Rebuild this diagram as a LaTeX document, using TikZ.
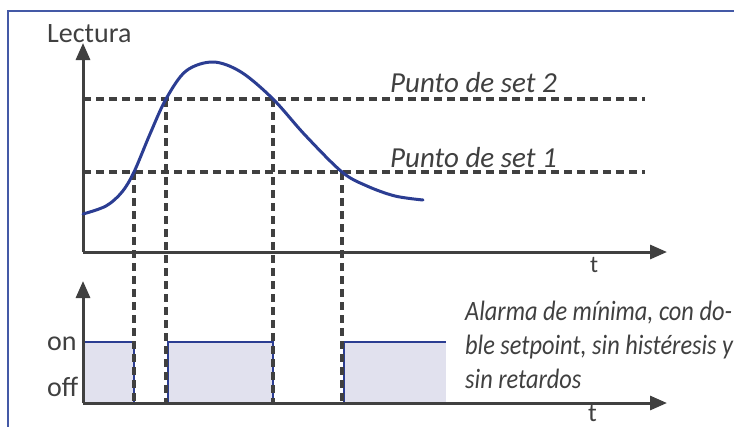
\documentclass[tikz,border=0pt]{standalone}
\usepackage{fontspec}
\setmainfont{Carlito}
\newfontfamily\condfont{Carlito}[FakeStretch=0.87]
\usetikzlibrary{arrows.meta}
\definecolor{txt}{HTML}{404040}
\definecolor{axc}{HTML}{404040}
\definecolor{crv}{HTML}{2B3D92}
\definecolor{frm}{HTML}{4459A6}
\definecolor{pfill}{HTML}{E1E1EE}
\begin{document}
\begin{tikzpicture}[x=1pt,y=-1pt,
  axisline/.style={draw=axc,line width=3pt,-{Triangle[length=17pt,width=14pt]}},
  guide/.style={draw=axc,line width=3.1pt,dash pattern=on 8pt off 5pt},
  pulsefill/.style={fill=pfill},
  pulseedge/.style={draw=crv,line width=2.4pt},
  lbl/.style={text=txt,inner sep=0pt,anchor=base west,font=\fontsize{28}{34}\selectfont},
  ilbl/.style={lbl,font=\fontsize{29}{34}\selectfont\itshape},
  clbl/.style={lbl,font=\condfont\fontsize{28}{34}\selectfont\itshape}]
\useasboundingbox (0,0) rectangle (734,426);
\clip (0,0) rectangle (734,426);
\fill[white] (0,0) rectangle (734,426);
\draw[frm,line width=2.5pt] (8,430) -- (8,11) -- (740,11);
% axes coordinates
\coordinate (O1) at (83,252);
\coordinate (Y1) at (83,43);
\coordinate (X1) at (667,252);
\coordinate (O2) at (83,403);
\coordinate (Y2) at (83,281);
\coordinate (X2) at (667,403);
% set lines
\coordinate (S2a) at (83,99);
\coordinate (S2b) at (645,99);
\coordinate (S1a) at (83,172);
\coordinate (S1b) at (645,172);
% crossings
\coordinate (c1) at (134,172);
\coordinate (c2) at (166,99);
\coordinate (c3) at (273,99);
\coordinate (c4) at (342,172);
\coordinate (d1) at (134,403);
\coordinate (d2) at (166,403);
\coordinate (d3) at (273,403);
\coordinate (d4) at (342,403);
% pulses
\fill[pulsefill] (83,342) rectangle (134,403);
\fill[pulsefill] (168,342) rectangle (273,403);
\fill[pulsefill] (344,342) rectangle (446,403);
\draw[pulseedge] (83,403) -- (83,342) -- (134,342) -- (134,403);
\draw[pulseedge] (168,403) -- (168,342) -- (273,342) -- (273,403);
\draw[pulseedge] (344,403) -- (344,342) -- (446,342);
% guides
\draw[guide] (S2a) -- (S2b);
\draw[guide] (S1a) -- (S1b);
\draw[guide] (c1) -- (d1);
\draw[guide] (c2) -- (d2);
\draw[guide] (c3) -- (d3);
\draw[guide] (c4) -- (d4);
% axes
\draw[axisline] (O1) -- (Y1);
\draw[axisline] (O1) -- (X1);
\draw[axisline] (O2) -- (Y2);
\draw[axisline] (O2) -- (X2);
% curve
\draw[crv,line width=3pt,line cap=round] plot[smooth,tension=0.55] coordinates
  {(83,214) (106,206) (122,192) (c1) (150,134) (c2) (186,71) (213,62) (241,72) (c3) (305,135) (c4) (367,186) (395,196) (423,200)};
% labels
\node[lbl] (lect) at (47,42) {Lectura};
\node[ilbl] (ps2) at (390,92) {Punto de set 2};
\node[ilbl] (ps1) at (390,167) {Punto de set 1};
\node[lbl,font=\fontsize{24}{28}\selectfont] (t1) at (590,272) {t};
\node[lbl,font=\fontsize{26}{30}\selectfont] (t2) at (588,421) {t};
\node[lbl] (on) at (47,350) {on};
\node[lbl] (off) at (47,396) {off};
\node[clbl] (al1) at (465,320) {Alarma de mínima, con do-};
\node[clbl] (al2) at (465,354) {ble setpoint, sin histéresis y};
\node[clbl] (al3) at (465,388) {sin retardos};
\end{tikzpicture}
\end{document}
